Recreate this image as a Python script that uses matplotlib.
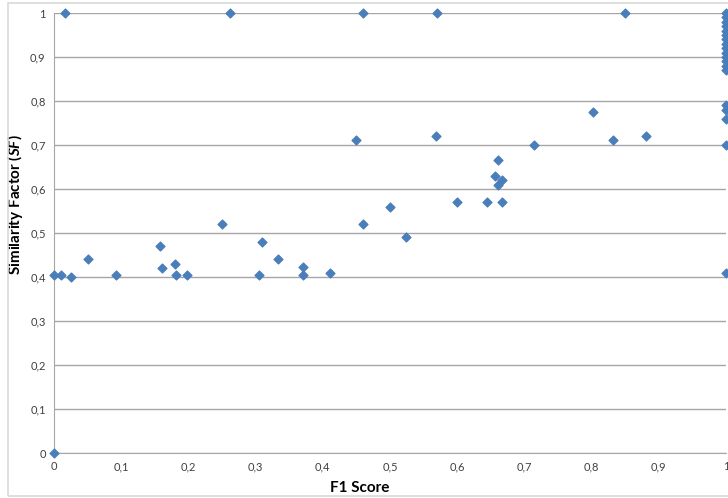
import matplotlib as mpl
import matplotlib.pyplot as plt
from matplotlib.patches import Rectangle
from matplotlib.ticker import FuncFormatter

## data ##
f1_score = [0.0, 0.0, 0.01, 0.025, 0.05, 0.092, 0.158, 0.16, 0.18, 0.182, 0.198,
            0.25, 0.305, 0.31, 0.333, 0.37, 0.37, 0.41, 0.449, 0.46, 0.5, 0.524,
            0.568, 0.6, 0.644, 0.656, 0.661, 0.661, 0.667, 0.667, 0.714, 0.802,
            0.832, 0.881,
            0.016, 0.262, 0.46, 0.57, 0.85,
            1.0, 1.0, 1.0, 1.0, 1.0, 1.0, 1.0, 1.0, 1.0, 1.0, 1.0, 1.0, 1.0, 1.0,
            1.0, 1.0, 1.0, 1.0, 1.0]
sim_factor = [0.0, 0.405, 0.405, 0.40, 0.44, 0.405, 0.47, 0.42, 0.43, 0.405, 0.405,
              0.52, 0.405, 0.48, 0.44, 0.422, 0.405, 0.41, 0.712, 0.52, 0.56, 0.49,
              0.72, 0.57, 0.57, 0.63, 0.666, 0.609, 0.62, 0.57, 0.70, 0.775,
              0.711, 0.72,
              1.0, 1.0, 1.0, 1.0, 1.0,
              1.0, 0.99, 0.98, 0.97, 0.96, 0.95, 0.94, 0.93, 0.92, 0.91, 0.90, 0.89,
              0.88, 0.87, 0.79, 0.78, 0.76, 0.70, 0.41]
ticks = [0, 0.1, 0.2, 0.3, 0.4, 0.5, 0.6, 0.7, 0.8, 0.9, 1.0]

## style ##
plt.rcParams['font.family'] = ['Lato', 'DejaVu Sans']
plt.rcParams['mathtext.fontset'] = 'custom'
plt.rcParams['mathtext.it'] = 'Lato:bold:italic'

fig = plt.figure(figsize=(7.28, 4.98), dpi=100)
ax = fig.add_axes([54/728, 1-453/498, 672/728, 440/498])

# chart border
fig.patches.append(Rectangle((8/728, 1-496/498), 1.2, 493/498, transform=fig.transFigure,
                             fill=False, edgecolor='#d9d9d9', lw=1.2))

ax.scatter(f1_score, sim_factor, marker='D', s=20, color='#4A7EBB', zorder=3, clip_on=False)

ax.set_xlim(0, 1)
ax.set_ylim(0, 1)
ax.set_xticks(ticks)
ax.set_yticks(ticks)
fmt = FuncFormatter(lambda v, p: ('%g' % round(v, 1)).replace('.', ','))
ax.xaxis.set_major_formatter(fmt)
ax.yaxis.set_major_formatter(fmt)
ax.tick_params(length=0, labelsize=8, colors='#404040', pad=6)

ax.yaxis.grid(True, color='#a6a6a6', lw=1)
ax.set_axisbelow(True)
for s in ['top', 'right']:
    ax.spines[s].set_visible(False)
for s in ['left', 'bottom']:
    ax.spines[s].set_color('#a6a6a6')

# axis titles sit a bit off the plot centre, as in the source chart
ax.set_xlabel('F1 Score', fontsize=11, fontweight='bold')
ax.xaxis.set_label_coords((360-54)/672, -(481-453)/440)
ax.set_ylabel(r'Similarity Factor ($\mathit{SF}$)', fontsize=11, fontweight='bold')
ax.yaxis.set_label_coords(-(54-25)/672, (453-205)/440)

fig.savefig('out.png', dpi=100)
